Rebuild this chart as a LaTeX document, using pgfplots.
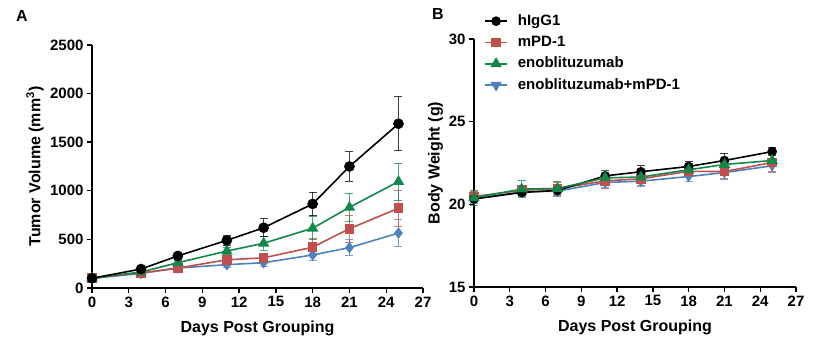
\documentclass[border=0pt]{standalone}
\usepackage{pgfplots}
\pgfplotsset{compat=1.18}
\usepackage{pgfplotstable}
\usepackage{fontspec}
\setmainfont{Liberation Sans}
\definecolor{cblack}{HTML}{000000}
\definecolor{cred}{HTML}{C0504D}
\definecolor{cgreen}{HTML}{12874A}
\definecolor{cblue}{HTML}{4F81BD}

\pgfplotstableread{
x k ke r re g ge b be
0 100 10 100 10 100 10 100 10
4 195 15 155 12 165 12 150 10
7 330 25 205 15 260 20 205 15
11 490 55 290 30 380 40 240 25
14 620 90 310 40 460 70 260 35
18 865 120 420 90 615 120 340 60
21 1250 150 610 140 830 145 415 85
25 1690 280 820 185 1095 190 565 135
}\tumor

\pgfplotstableread{
x k ke r re g ge b be
0 20.32 0.15 20.47 0.30 20.40 0.45 20.35 0.30
4 20.72 0.20 20.85 0.30 20.92 0.50 20.75 0.25
7 20.84 0.15 20.95 0.35 20.96 0.45 20.80 0.30
11 21.72 0.30 21.42 0.45 21.60 0.45 21.32 0.30
14 21.97 0.35 21.54 0.40 21.65 0.35 21.40 0.30
18 22.29 0.30 22.00 0.30 22.09 0.35 21.68 0.30
21 22.65 0.45 21.98 0.50 22.41 0.30 21.92 0.35
25 23.19 0.25 22.53 0.60 22.65 0.30 22.33 0.35
}\weight

\pgfplotsset{
  panel/.style={
    scale only axis,
    anchor=south west,
    axis x line*=bottom,
    axis y line*=left,
    axis line style={line width=1.6pt, black},
    every tick/.style={line width=1.4pt, black},
    tick align=outside,
    major tick length=5pt,
    xmin=0, xmax=27,
    xtick={0,3,...,27},
    /pgf/number format/assume math mode=true,
    ticklabel style={font=\bfseries\fontsize{15}{15}\selectfont},
    label style={font=\bfseries\fontsize{16}{16}\selectfont},
    xlabel={Days Post Grouping},
    clip=false,
  },
  ser/.style={line width=1.6pt, color=#1, mark options={fill=#1, draw=#1, solid},
     error bars/y dir=both, error bars/y explicit,
     error bars/error bar style={color=#1, line width=1pt, opacity=0.75},
     error bars/error mark options={rotate=90, mark size=4pt, line width=1pt, color=#1, opacity=0.75}},
}

\begin{document}
\begin{tikzpicture}[x=1pt,y=1pt]
\useasboundingbox (0,0) rectangle (830,347);
\node[font=\bfseries\fontsize{16}{16}\selectfont, anchor=center] at (22,331) {A};
\node[font=\bfseries\fontsize{16}{16}\selectfont, anchor=center] at (438,333) {B};

\begin{axis}[panel, at={(92pt,59pt)}, width=331pt, height=243pt,
  ymin=0, ymax=2500, ytick={0,500,...,2500},
  ylabel={Tumor Volume (mm\textsuperscript{3})},
  ylabel style={at={(axis description cs:-0.135,0.5)}},
  xlabel style={at={(axis description cs:0.5,-0.12)}},
  scaled y ticks=false,
  yticklabel style={/pgf/number format/.cd, 1000 sep={}},
  ]
\addplot[ser=cblue, mark=diamond*, mark size=4.5pt] table[x=x,y=b,y error=be]{\tumor};
\addplot[ser=cred, mark=square*, mark size=4pt] table[x=x,y=r,y error=re]{\tumor};
\addplot[ser=cgreen, mark=triangle*, mark size=5pt] table[x=x,y=g,y error=ge]{\tumor};
\addplot[ser=cblack, mark=*, mark size=4.5pt] table[x=x,y=k,y error=ke]{\tumor};
\end{axis}

\begin{axis}[panel, at={(474pt,60pt)}, width=322pt, height=248pt,
  ymin=15, ymax=30, ytick={15,20,25,30},
  ylabel={Body Weight (g)},
  ylabel style={at={(axis description cs:-0.085,0.5)}},
  xlabel style={at={(axis description cs:0.5,-0.12)}},
  legend style={at={(rel axis cs:0.022,1.113)}, anchor=north west, draw=none, fill=none,
     font=\bfseries\fontsize{15}{15}\selectfont, row sep=5.3pt, column sep=9pt,
     nodes={text height=11pt, text depth=3pt, inner sep=1pt}},
  legend cell align=left,
  legend image code/.code={\draw[mark repeat=2,mark phase=2] plot coordinates {(0pt,0pt) (11pt,0pt) (22pt,0pt)};},
  ]
\addlegendimage{ser=cblack, mark=*, mark size=4pt}
\addlegendentry{hIgG1}
\addlegendimage{ser=cred, mark=square*, mark size=4pt}
\addlegendentry{mPD-1}
\addlegendimage{ser=cgreen, mark=triangle*, mark size=5pt}
\addlegendentry{enoblituzumab}
\addlegendimage{ser=cblue, mark=triangle*, mark options={rotate=180}, mark size=5pt}
\addlegendentry{enoblituzumab+mPD-1}
\addplot[ser=cblue, mark=triangle*, mark options={rotate=180}, mark size=4.5pt, forget plot] table[x=x,y=b,y error=be]{\weight};
\addplot[ser=cred, mark=square*, mark size=4pt, forget plot] table[x=x,y=r,y error=re]{\weight};
\addplot[ser=cblack, mark=*, mark size=4pt, forget plot] table[x=x,y=k,y error=ke]{\weight};
\addplot[ser=cgreen, mark=triangle*, mark size=5pt, forget plot] table[x=x,y=g,y error=ge]{\weight};
\end{axis}
\end{tikzpicture}
\end{document}
